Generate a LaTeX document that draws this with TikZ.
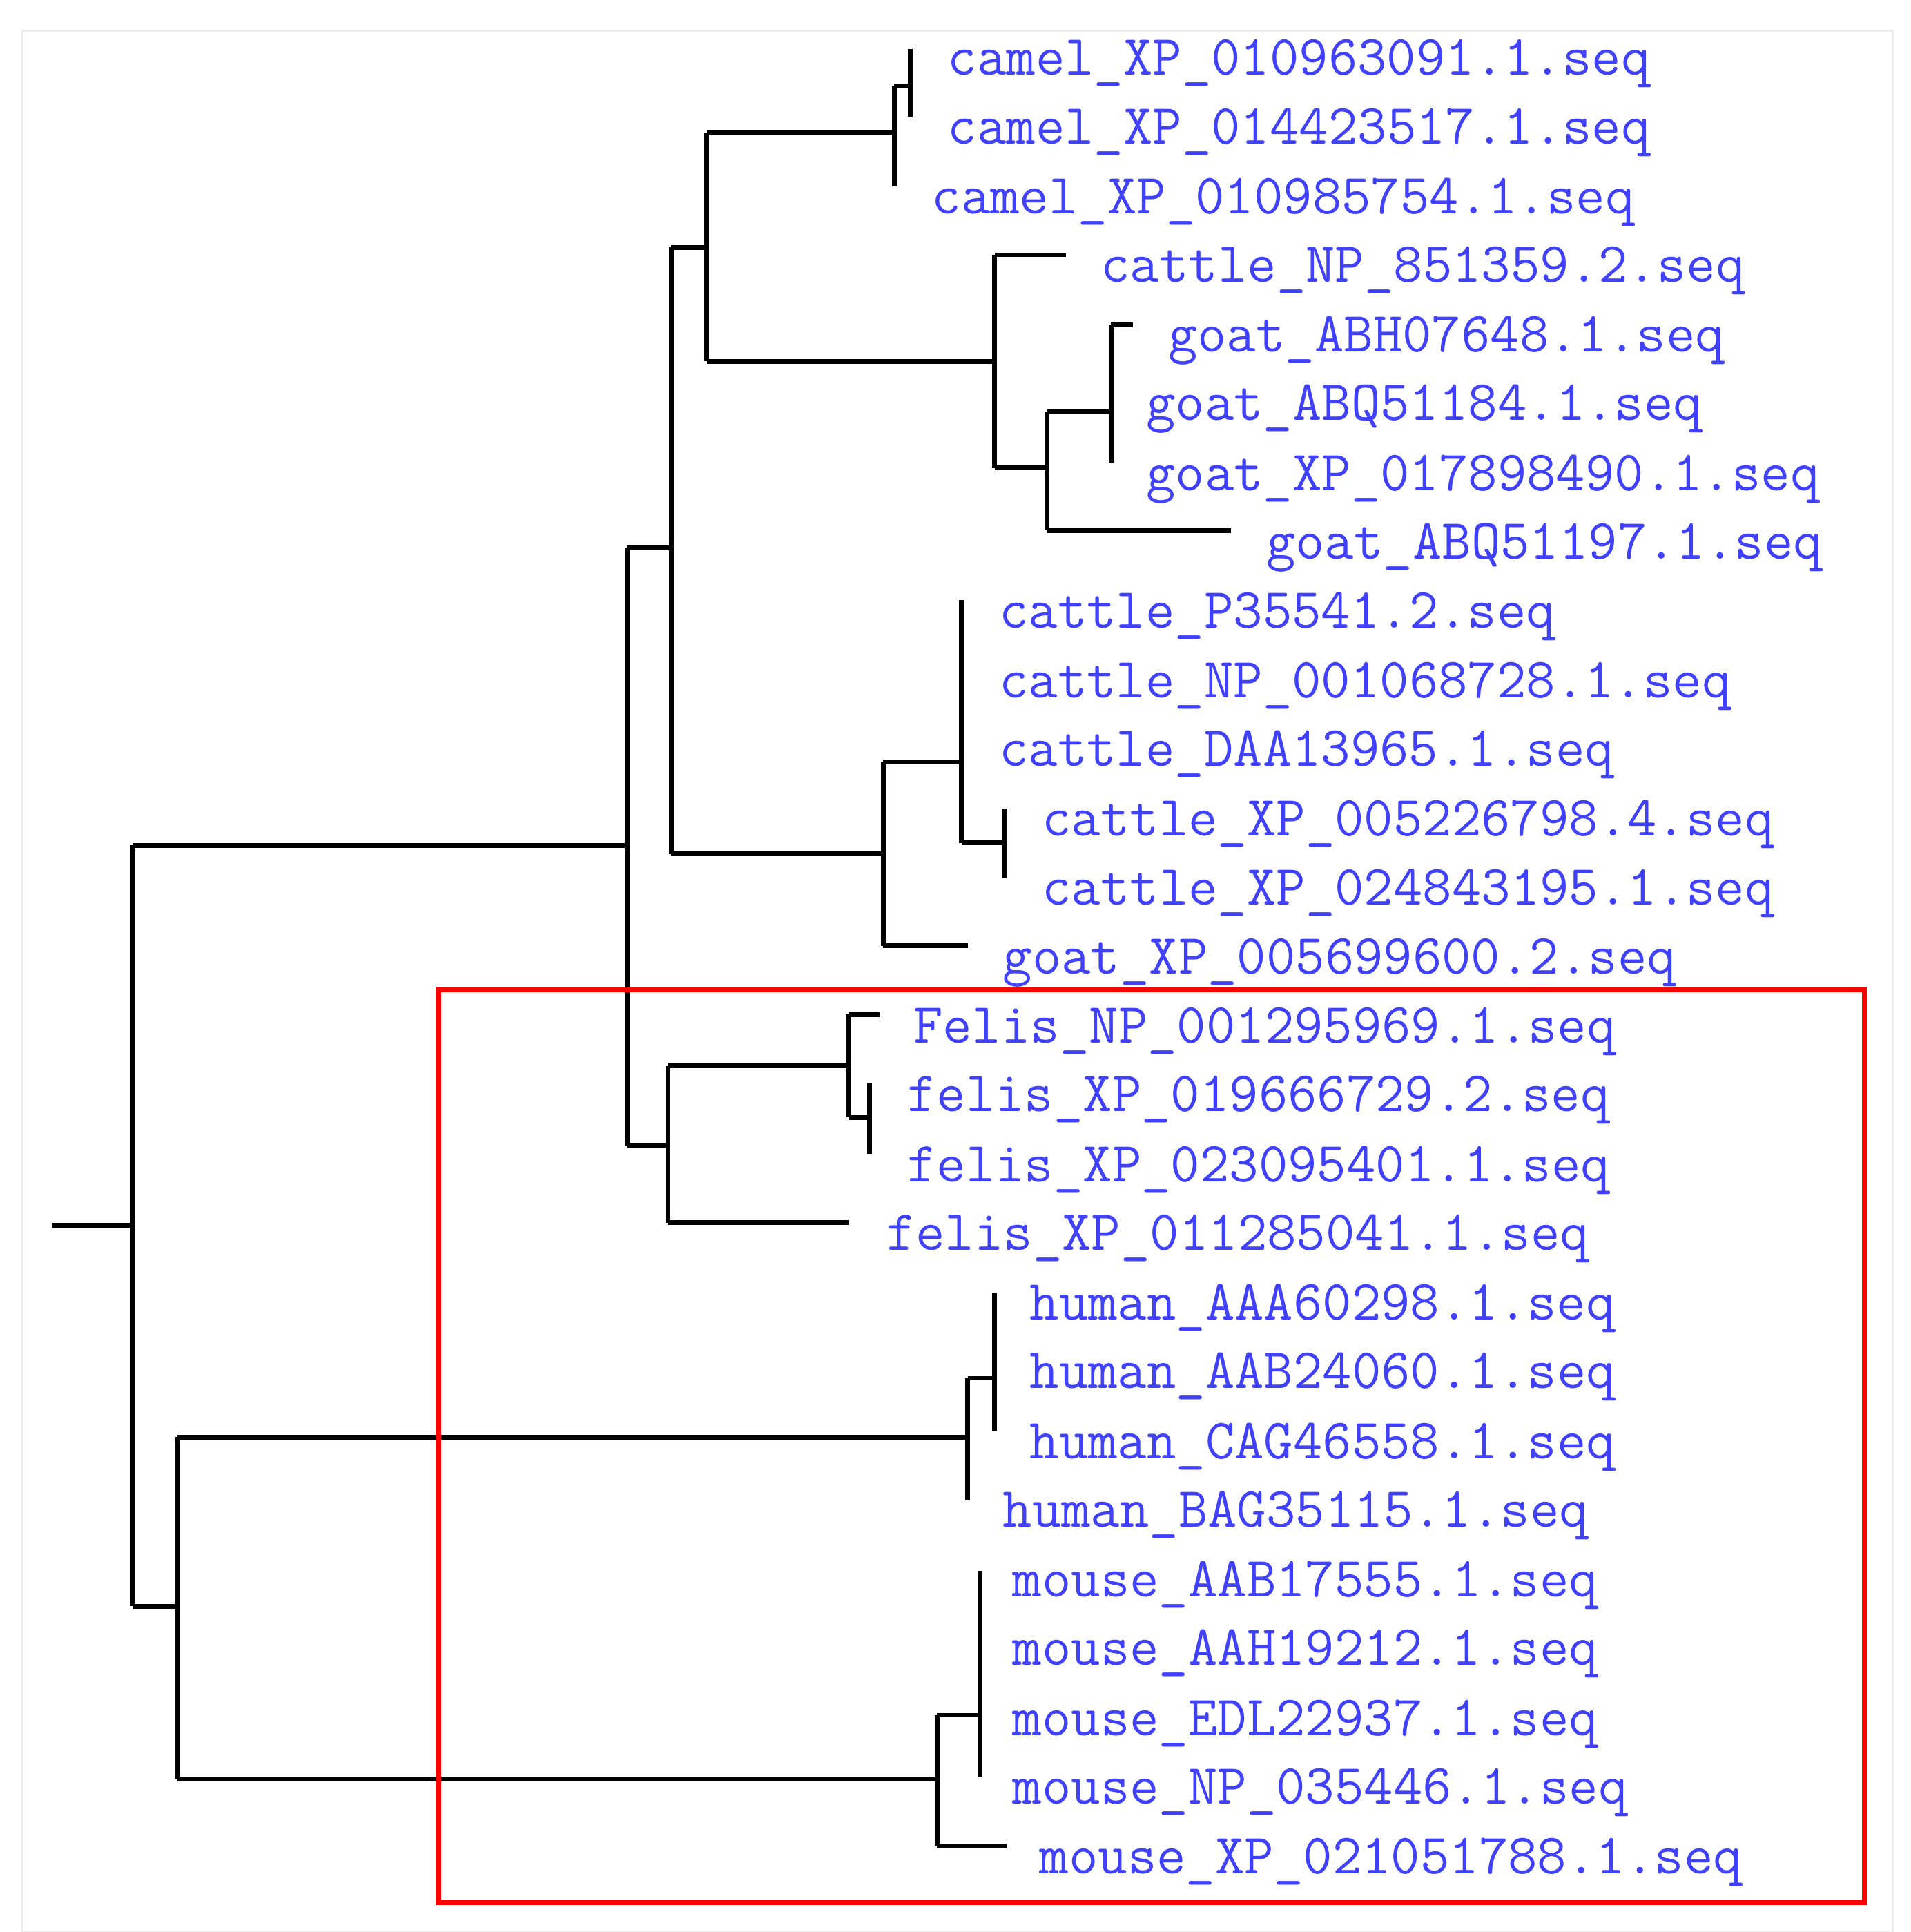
\documentclass[tikz,border=0pt]{standalone}
\usetikzlibrary{calc}
\begin{document}
\begin{tikzpicture}[x=0.01cm, y=-0.01cm]
        % ================= styles =================
        \tikzset{
            leaf/.style={anchor=west, inner sep=0pt, text=blue!75!white,
                font=\fontsize{13.2}{14}\selectfont\ttfamily},
            branch/.style={line width=1.1pt, black},
            hbox/.style={line width=1.2pt, red}
        }
        \useasboundingbox (0,0) rectangle (1560,1577);
        \draw[gray!15, line width=0.4pt] (18,25) rectangle (1545,1577);

        % ================= leaves =================
        \foreach \nm/\x/\y/\t in {
            l1/773/52/camel\_XP\_010963091.1.seq,
            l2/773/108/camel\_XP\_014423517.1.seq,
            l3/760/165/camel\_XP\_010985754.1.seq,
            l4/898/221/cattle\_NP\_851359.2.seq,
            l5/953/278/goat\_ABH07648.1.seq,
            l6/935/334/goat\_ABQ51184.1.seq,
            l7/935/391/goat\_XP\_017898490.1.seq,
            l8/1033/447/goat\_ABQ51197.1.seq,
            l9/815/503/cattle\_P35541.2.seq,
            l10/815/560/cattle\_NP\_001068728.1.seq,
            l11/815/616/cattle\_DAA13965.1.seq,
            l12/850/673/cattle\_XP\_005226798.4.seq,
            l13/850/729/cattle\_XP\_024843195.1.seq,
            l14/818/786/goat\_XP\_005699600.2.seq,
            l15/745/842/Felis\_NP\_001295969.1.seq,
            l16/740/898/felis\_XP\_019666729.2.seq,
            l17/740/955/felis\_XP\_023095401.1.seq,
            l18/723/1011/felis\_XP\_011285041.1.seq,
            l19/840/1068/human\_AAA60298.1.seq,
            l20/840/1124/human\_AAB24060.1.seq,
            l21/840/1181/human\_CAG46558.1.seq,
            l22/818/1237/human\_BAG35115.1.seq,
            l23/826/1294/mouse\_AAB17555.1.seq,
            l24/826/1350/mouse\_AAH19212.1.seq,
            l25/826/1407/mouse\_EDL22937.1.seq,
            l26/826/1463/mouse\_NP\_035446.1.seq,
            l27/848/1520/mouse\_XP\_021051788.1.seq}
            \node[leaf] (\nm) at (\x,\y) {\t};

        % ================= tree =================
        \coordinate (root) at (42,1000);
        \draw[branch] (root) -- (108,1000);
        \draw[branch] (108,690) -- (108,1311);
        % upper clade
        \draw[branch] (108,690) -- (512,690) (512,447) -- (512,935);
        \draw[branch] (512,447) -- (548,447) (548,202) -- (548,697);
        \draw[branch] (548,202) -- (577,202) (577,108) -- (577,295);
        \draw[branch] (577,108) -- (730,108) (730,70) -- (730,152);
        \draw[branch] (730,70) -- (743,70) (743,40) -- (743,95);
        \draw[branch] (577,295) -- (812,295) (812,208) -- (812,382);
        \draw[branch] (812,208) -- (870,208);
        \draw[branch] (812,382) -- (855,382) (855,336) -- (855,433);
        \draw[branch] (855,336) -- (907,336) (907,265) -- (907,378);
        \draw[branch] (907,265) -- (925,265);
        \draw[branch] (855,433) -- (1005,433);
        \draw[branch] (548,697) -- (721,697) (721,622) -- (721,772);
        \draw[branch] (721,622) -- (785,622) (785,490) -- (785,688);
        \draw[branch] (785,688) -- (820,688) (820,660) -- (820,717);
        \draw[branch] (721,772) -- (790,772);
        % felis clade
        \draw[branch] (512,935) -- (545,935) (545,870) -- (545,998);
        \draw[branch] (545,870) -- (693,870) (693,828) -- (693,912);
        \draw[branch] (693,828) -- (718,828);
        \draw[branch] (693,912) -- (710,912) (710,884) -- (710,942);
        \draw[branch] (545,998) -- (693,998);
        % human and mouse
        \draw[branch] (108,1311) -- (145,1311) (145,1173) -- (145,1452);
        \draw[branch] (145,1173) -- (790,1173) (790,1125) -- (790,1225);
        \draw[branch] (790,1125) -- (812,1125) (812,1055) -- (812,1168);
        \draw[branch] (145,1452) -- (765,1452) (765,1400) -- (765,1507);
        \draw[branch] (765,1400) -- (800,1400) (800,1282) -- (800,1450);
        \draw[branch] (765,1507) -- (822,1507);

        % highlight box
        \draw[hbox] (358,808) rectangle (1522,1553);
\end{tikzpicture}
\end{document}
